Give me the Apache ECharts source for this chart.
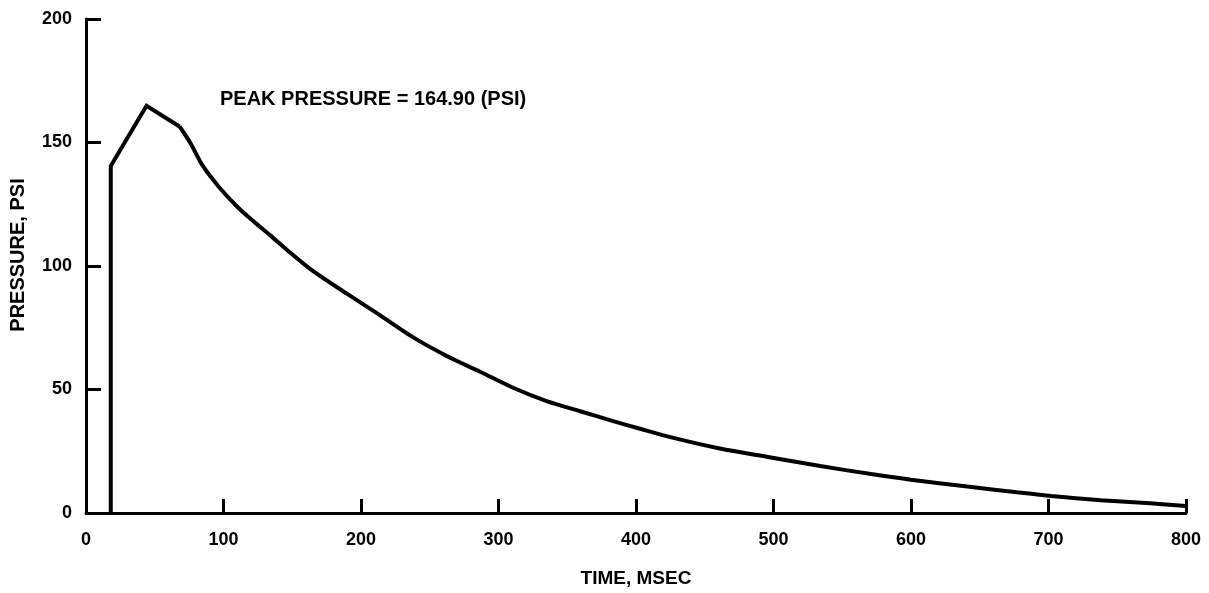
<!DOCTYPE html>
<html>
<head>
<meta charset="utf-8">
<script src="https://cdn.jsdelivr.net/npm/echarts@6/dist/echarts.min.js"></script>
<style>
html,body{margin:0;padding:0;background:#fff;}
#c{width:1209px;height:593px;}
</style>
</head>
<body>
<div id="c"></div>
<script>
// Rise portion (time in msec, pressure in psi)
const riseTime = [18, 18, 44, 68];
const risePressure = [0, 140.5, 164.9, 156.5];
// Decay portion
const decayTime = [68, 76, 85, 97, 110, 122, 134, 146, 165, 190, 214, 238, 262, 287, 311, 335, 360, 384, 403, 425, 461, 498, 534, 571, 600, 641, 677, 702, 738, 774, 800];
const decayPressure = [156.5, 149.7, 140.5, 131.8, 124, 118, 112.4, 106.6, 98, 88.7, 80, 71.1, 63.7, 57.1, 50.6, 45.3, 41.1, 37.1, 34.1, 30.7, 26.1, 22.5, 19, 15.8, 13.5, 10.7, 8.4, 6.9, 5.2, 3.9, 2.8];
const xTicks = [0, 100, 200, 300, 400, 500, 600, 700, 800];
const yTicks = [0, 50, 100, 150, 200];
const annotation = 'PEAK PRESSURE = 164.90 (PSI)';

const FONT = '"Liberation Sans", Arial, sans-serif';
const chart = echarts.init(document.getElementById('c'));
const pairs = (xs, ys) => xs.map((x, i) => [x, ys[i]]);

chart.setOption({
  backgroundColor: '#fff',
  animation: false,
  grid: {left: 86, right: 23, top: 19, bottom: 79, containLabel: false},
  xAxis: {
    type: 'value', min: xTicks[0], max: xTicks[xTicks.length - 1], interval: 100,
    name: 'TIME, MSEC', nameLocation: 'middle', nameGap: 56,
    nameTextStyle: {fontFamily: FONT, fontWeight: 'bold', fontSize: 19, color: '#000'},
    axisLine: {show: true, lineStyle: {color: '#000', width: 3}},
    axisTick: {show: true, inside: true, length: 14, lineStyle: {color: '#000', width: 3}},
    axisLabel: {margin: 18, fontFamily: FONT, fontWeight: 'bold', fontSize: 18, color: '#000'},
    splitLine: {show: false}
  },
  yAxis: {
    type: 'value', min: yTicks[0], max: yTicks[yTicks.length - 1], interval: 50,
    name: 'PRESSURE, PSI', nameLocation: 'middle', nameGap: 58, nameRotate: 90,
    nameTextStyle: {fontFamily: FONT, fontWeight: 'bold', fontSize: 20, color: '#000', padding: [0, 0, 0, 22]},
    axisLine: {show: true, lineStyle: {color: '#000', width: 3}},
    axisTick: {show: true, inside: true, length: 15, lineStyle: {color: '#000', width: 3}},
    axisLabel: {margin: 14, fontFamily: FONT, fontWeight: 'bold', fontSize: 18, color: '#000'},
    splitLine: {show: false}
  },
  graphic: [{
    type: 'text', left: 220, top: 89,
    style: {text: annotation, font: 'bold 20px ' + FONT, fill: '#000'}
  }],
  series: [
    {type: 'line', data: pairs(riseTime, risePressure), showSymbol: false, symbol: 'none',
     lineStyle: {color: '#000', width: 4, join: 'miter'}},
    {type: 'line', data: pairs(decayTime, decayPressure), showSymbol: false, symbol: 'none',
     smooth: 0.3,
     lineStyle: {color: '#000', width: 4}}
  ]
});
</script>
</body>
</html>
